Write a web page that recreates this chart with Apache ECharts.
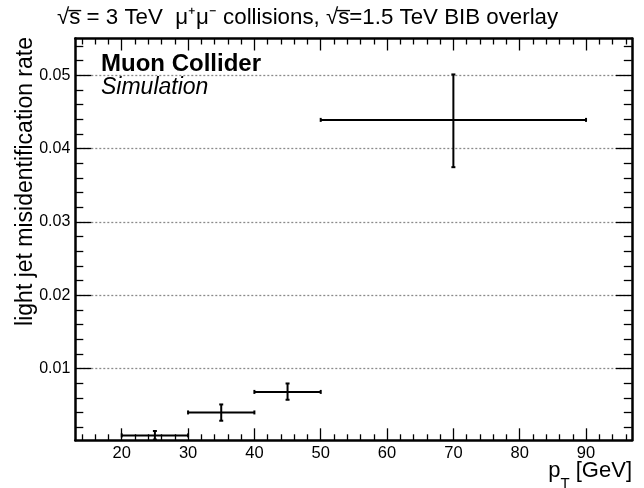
<!DOCTYPE html>
<html>
<head>
<meta charset="utf-8">
<script src="https://cdn.jsdelivr.net/npm/echarts@6/dist/echarts.min.js"></script>
<style>
  html, body { margin: 0; padding: 0; background: #fff; }
  #chart { width: 644px; height: 488px; }
</style>
</head>
<body>
<div id="chart"></div>
<script>
// ---- data ----
const binCenters = [25, 35, 45, 70];
const binLow     = [20, 30, 40, 50];
const binHigh    = [30, 40, 50, 90];
const rate       = [0.00087, 0.0040, 0.0068, 0.0439];
const rateLower  = [0.0003, 0.00287, 0.00573, 0.03745];
const rateUpper  = [0.00147, 0.00509, 0.00795, 0.0501];

// ---- axis ticks ----
const xMajorTicks = [20, 30, 40, 50, 60, 70, 80, 90];
const xMinorTicks = [14, 16, 18, 22, 24, 26, 28, 32, 34, 36, 38, 42, 44, 46, 48, 52, 54, 56, 58,
                     62, 64, 66, 68, 72, 74, 76, 78, 82, 84, 86, 88, 92, 94, 96];
const yMajorTicks = [0.01, 0.02, 0.03, 0.04, 0.05];
const yTickLabels = ['0.01', '0.02', '0.03', '0.04', '0.05'];
const yMinorTicks = [0.002, 0.004, 0.006, 0.008, 0.012, 0.014, 0.016, 0.018, 0.022, 0.024, 0.026, 0.028,
                     0.032, 0.034, 0.036, 0.038, 0.042, 0.044, 0.046, 0.048, 0.052, 0.054];

const X_MIN = 13, X_MAX = 96.9;
const Y_MIN = 0.0002, Y_MAX = 0.055;

const FONT = '"Liberation Sans", Arial, Helvetica, sans-serif';
const INK = '#000';

const chart = echarts.init(document.getElementById('chart'), null, { renderer: 'canvas' });

function xAxisDef(position, ticks, len, withLine, withLabel) {
  return {
    type: 'value', position: position, min: X_MIN, max: X_MAX,
    axisLine: { show: withLine, onZero: false, lineStyle: { color: INK, width: 2.5 } },
    axisTick: { show: true, inside: true, length: len, customValues: ticks, lineStyle: { color: INK, width: 1.3 } },
    axisLabel: withLabel ? { show: true, customValues: ticks, color: INK, fontSize: 16.5, fontFamily: FONT, margin: 5 } : { show: false },
    splitLine: { show: false }, minorTick: { show: false }
  };
}
function yAxisDef(position, ticks, len, withLine, withLabel, withGrid) {
  return {
    type: 'value', position: position, min: Y_MIN, max: Y_MAX,
    axisLine: { show: withLine, onZero: false, lineStyle: { color: INK, width: 2.5 } },
    axisTick: { show: true, inside: true, length: len, customValues: ticks, lineStyle: { color: INK, width: 1.3 } },
    axisLabel: withLabel ? {
      show: true, customValues: ticks, color: INK, fontSize: 16, fontFamily: FONT, margin: 5,
      formatter: function (v) {
        for (let i = 0; i < yMajorTicks.length; i++) {
          if (Math.abs(yMajorTicks[i] - v) < 1e-9) return yTickLabels[i];
        }
        return '';
      }
    } : { show: false },
    splitLine: withGrid ? { show: true, lineStyle: { color: '#8a8a8a', width: 1.3, type: [2, 2] } } : { show: false },
    minorTick: { show: false }
  };
}

const errData = binCenters.map((c, i) => [c, binLow[i], binHigh[i], rate[i], rateLower[i], rateUpper[i]]);

const option = {
  animation: false,
  backgroundColor: '#fff',
  grid: { left: 75.3, right: 12.2, top: 38.5, bottom: 47.7, containLabel: false, outerBoundsMode: 'none' },
  xAxis: [
    xAxisDef('bottom', xMajorTicks, 12, true, true),
    xAxisDef('bottom', xMinorTicks, 6, false, false),
    xAxisDef('top', xMajorTicks, 12, true, false),
    xAxisDef('top', xMinorTicks, 6, false, false)
  ],
  yAxis: [
    yAxisDef('left', yMajorTicks, 16, true, true, true),
    yAxisDef('left', yMinorTicks, 8, false, false, false),
    yAxisDef('right', yMajorTicks, 16, true, false, false),
    yAxisDef('right', yMinorTicks, 8, false, false, false)
  ],
  series: [{
    type: 'custom',
    xAxisIndex: 0, yAxisIndex: 0,
    data: errData,
    encode: { x: [0, 1, 2], y: [3, 4, 5] },
    z: 5,
    renderItem: function (params, api) {
      const c = api.value(0), lo = api.value(1), hi = api.value(2);
      const v = api.value(3), vl = api.value(4), vh = api.value(5);
      const pL = api.coord([lo, v]), pR = api.coord([hi, v]);
      const pB = api.coord([c, vl]), pT = api.coord([c, vh]);
      const st = { stroke: INK, lineWidth: 2 };
      const cap = 2;
      return {
        type: 'group',
        children: [
          { type: 'line', shape: { x1: pL[0], y1: pL[1], x2: pR[0], y2: pR[1] }, style: st },
          { type: 'line', shape: { x1: pB[0], y1: pB[1], x2: pT[0], y2: pT[1] }, style: st },
          { type: 'line', shape: { x1: pL[0], y1: pL[1] - cap, x2: pL[0], y2: pL[1] + cap }, style: st },
          { type: 'line', shape: { x1: pR[0], y1: pR[1] - cap, x2: pR[0], y2: pR[1] + cap }, style: st },
          { type: 'line', shape: { x1: pB[0] - cap, y1: pB[1], x2: pB[0] + cap, y2: pB[1] }, style: st },
          { type: 'line', shape: { x1: pT[0] - cap, y1: pT[1], x2: pT[0] + cap, y2: pT[1] }, style: st }
        ]
      };
    }
  }],
  graphic: [
    {
      type: 'text', x: 57, y: 18,
      style: { text: '\u221As\u0305 = 3 TeV  \u03BC\u207A\u03BC\u207B collisions, \u221As\u0305=1.5 TeV BIB overlay',
               font: '22.3px ' + FONT, fill: INK, verticalAlign: 'middle' }
    },
    {
      type: 'text', x: 26, y: 37, rotation: Math.PI / 2,
      style: { text: 'light jet misidentification rate', font: '23px ' + FONT, fill: INK,
               align: 'right', verticalAlign: 'middle' }
    },
    {
      type: 'text', x: 101, y: 64,
      style: { text: 'Muon Collider', font: 'bold 24px ' + FONT, fill: INK, verticalAlign: 'middle' }
    },
    {
      type: 'text', x: 101, y: 88,
      style: { text: 'Simulation', font: 'italic 23px ' + FONT, fill: INK, verticalAlign: 'middle' }
    },
    {
      type: 'text', x: 632, y: 471,
      style: {
        text: '{m|p}{s|T}{m| [GeV]}', align: 'right', verticalAlign: 'middle',
        rich: {
          m: { fontSize: 22, fontFamily: FONT, color: INK, lineHeight: 44 },
          s: { fontSize: 15, fontFamily: FONT, color: INK, padding: [26, 0, 0, 0] }
        }
      }
    }
  ]
};
chart.setOption(option);
</script>
</body>
</html>
